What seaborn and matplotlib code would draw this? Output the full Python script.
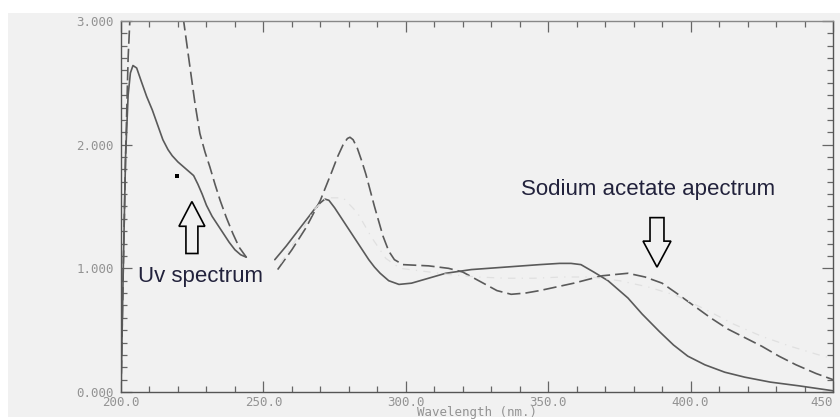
import numpy as np
import pandas as pd
import matplotlib
matplotlib.use("Agg")
import matplotlib.pyplot as plt
from matplotlib.patches import Rectangle, FancyArrow
from matplotlib.ticker import MultipleLocator, FixedLocator
import seaborn as sns

# ---- data ----
uv_wl_1 = [200.0, 200.8, 201.6, 202.5, 203.3, 204.2, 205.5, 207, 209, 211, 213, 214.7, 216.5,
           218, 220, 222, 224, 225.5, 227, 228.5, 230, 232, 234, 236, 238, 240, 242, 244]
uv_abs_1 = [0.0, 1.0, 1.9, 2.4, 2.58, 2.64, 2.62, 2.52, 2.39, 2.28, 2.15, 2.04, 1.96,
            1.91, 1.86, 1.82, 1.78, 1.75, 1.68, 1.6, 1.51, 1.42, 1.35, 1.28, 1.21, 1.15, 1.11, 1.09]
uv_wl_2 = [254, 258, 262, 266, 268, 270, 271.6, 273, 275, 277, 279, 281, 283, 285, 287, 289,
           291, 294, 297.6, 302, 308, 314, 323, 335, 347, 354, 358, 361.5, 366, 371, 378, 383,
           389, 394, 399, 405, 412, 419, 428, 438, 450]
uv_abs_2 = [1.07, 1.18, 1.3, 1.42, 1.48, 1.53, 1.56, 1.55, 1.49, 1.42, 1.35, 1.28, 1.21, 1.14,
            1.07, 1.01, 0.96, 0.9, 0.87, 0.88, 0.92, 0.96, 0.99, 1.01, 1.03, 1.04, 1.04, 1.03,
            0.97, 0.9, 0.76, 0.63, 0.49, 0.38, 0.29, 0.22, 0.16, 0.12, 0.08, 0.05, 0.01]

na_wl_1 = [200.0, 200.8, 201.6, 202.5, 203.3, 204.5, 208, 214, 219, 222, 224.2, 226, 227.7,
           229.5, 231.2, 233, 234.8, 237, 239.3, 241.5, 244]
na_abs_1 = [0.0, 1.0, 1.9, 2.7, 3.1, 3.6, 4.2, 4.2, 3.6, 3.0, 2.63, 2.33, 2.09,
            1.94, 1.82, 1.68, 1.55, 1.41, 1.28, 1.17, 1.09]
na_wl_2 = [255, 260, 265, 270, 274, 276, 278, 279.5, 280.4, 281.5, 283, 284.5, 286, 289, 292,
           294, 296, 299, 308, 315, 320, 324, 328, 332, 337, 342, 347, 353, 359, 364, 369, 378,
           384, 390, 395, 401, 407, 413, 419, 425, 431, 437, 444, 450]
na_abs_2 = [0.99, 1.15, 1.33, 1.55, 1.78, 1.9, 2.0, 2.05, 2.06, 2.04, 1.97, 1.87, 1.76, 1.5, 1.26,
            1.14, 1.07, 1.03, 1.02, 1.0, 0.97, 0.92, 0.87, 0.82, 0.79, 0.8, 0.82, 0.85, 0.88, 0.91,
            0.94, 0.96, 0.93, 0.88, 0.8, 0.7, 0.6, 0.51, 0.44, 0.37, 0.29, 0.22, 0.15, 0.1]

faint_wl = [256, 262, 268, 272, 278, 283, 288, 293, 298, 305, 315, 325, 335, 345, 355, 365,
            375, 385, 395, 405, 415, 425, 435, 445, 450]
faint_abs = [1.04, 1.25, 1.48, 1.57, 1.57, 1.45, 1.25, 1.08, 1.0, 0.98, 0.95, 0.93, 0.92, 0.92,
             0.93, 0.93, 0.9, 0.85, 0.78, 0.67, 0.55, 0.45, 0.37, 0.3, 0.27]

dot_wl = [219.7]
dot_abs = [1.75]

x_ticks = [200, 250, 300, 350, 400, 450]
x_tick_labels = ["200.0", "250.0", "300.0", "350.0", "400.0", "450"]
y_ticks = [0, 1, 2, 3]
y_tick_labels = ["0.000", "1.000", "2.000", "3.000"]

# ---- figure ----
sns.set_style("ticks")
plt.rcParams["font.family"] = ["Liberation Sans", "DejaVu Sans"]

fig = plt.figure(figsize=(8.4, 4.19), dpi=100)
fig.patch.set_facecolor("white")
bg = Rectangle((8 / 840, 2 / 419), 1 - 8 / 840, 1 - 15 / 419,
               transform=fig.transFigure, facecolor="#f1f1f1",
               edgecolor="none", zorder=-10)
fig.patches.append(bg)
ax = fig.add_axes([121 / 840, 1 - 392 / 419, (833 - 121) / 840, (392 - 21) / 419])
ax.set_zorder(5)
ax.set_facecolor("#f1f1f1")

line_col = "#5a5a5a"
for wl, ab in [(uv_wl_1, uv_abs_1), (uv_wl_2, uv_abs_2)]:
    sns.lineplot(x=wl, y=ab, ax=ax, color=line_col, linewidth=1.2, sort=False,
                 estimator=None)
for wl, ab in [(na_wl_1, na_abs_1), (na_wl_2, na_abs_2)]:
    sns.lineplot(x=wl, y=ab, ax=ax, color=line_col, linewidth=1.2, sort=False,
                 estimator=None, linestyle=(0, (8, 3)))
sns.lineplot(x=faint_wl, y=faint_abs, ax=ax, color="#e0e0e0", linewidth=0.9,
             sort=False, estimator=None, linestyle=(0, (6, 5, 1, 5)))
sns.scatterplot(x=dot_wl, y=dot_abs, ax=ax, color="black", marker="s", s=6,
                linewidth=0)

ax.set_xlim(200, 450)
ax.set_ylim(0, 3)

mono = "DejaVu Sans Mono"
lab_col = "#939393"
ax.xaxis.set_major_locator(FixedLocator(x_ticks))
ax.set_xticklabels(x_tick_labels, family=mono, fontsize=9, color=lab_col)
ax.get_xticklabels()[-1].set_horizontalalignment("right")
ax.yaxis.set_major_locator(FixedLocator(y_ticks))
ax.set_yticklabels(y_tick_labels, family=mono, fontsize=9, color=lab_col)
ax.xaxis.set_minor_locator(MultipleLocator(10))
ax.yaxis.set_minor_locator(MultipleLocator(0.1))
ax.tick_params(which="both", direction="in", top=True, right=True,
               labeltop=False, labelright=False, color="#666666", width=0.9)
ax.tick_params(axis="x", which="major", length=8, pad=3)
ax.tick_params(axis="y", which="major", length=8, pad=5)
ax.tick_params(which="minor", length=4)
ax.set_xlabel("Wavelength (nm.)", family=mono, fontsize=9, color=lab_col, labelpad=-2)
ax.set_ylabel("")
for s in ax.spines.values():
    s.set_color("#555555")
    s.set_linewidth(1.0)
ax.spines["top"].set_color("#888888")

# annotations
txt_col = "#22223c"
ax.text(206, 0.93, "Uv spectrum", fontsize=16, color=txt_col, va="center", ha="left")
ax.text(340.4, 1.64, "Sodium acetate apectrum", fontsize=16, color=txt_col,
        va="center", ha="left")
ax.add_patch(FancyArrow(224.9, 1.12, 0, 0.42, width=4.2, head_width=9.1,
                        head_length=0.2, length_includes_head=True, fill=False,
                        edgecolor="black", linewidth=1.2))
ax.add_patch(FancyArrow(388.2, 1.41, 0, -0.40, width=4.9, head_width=9.8,
                        head_length=0.21, length_includes_head=True, fill=False,
                        edgecolor="black", linewidth=1.2))

fig.savefig("out.png", dpi=100, facecolor=fig.get_facecolor())
